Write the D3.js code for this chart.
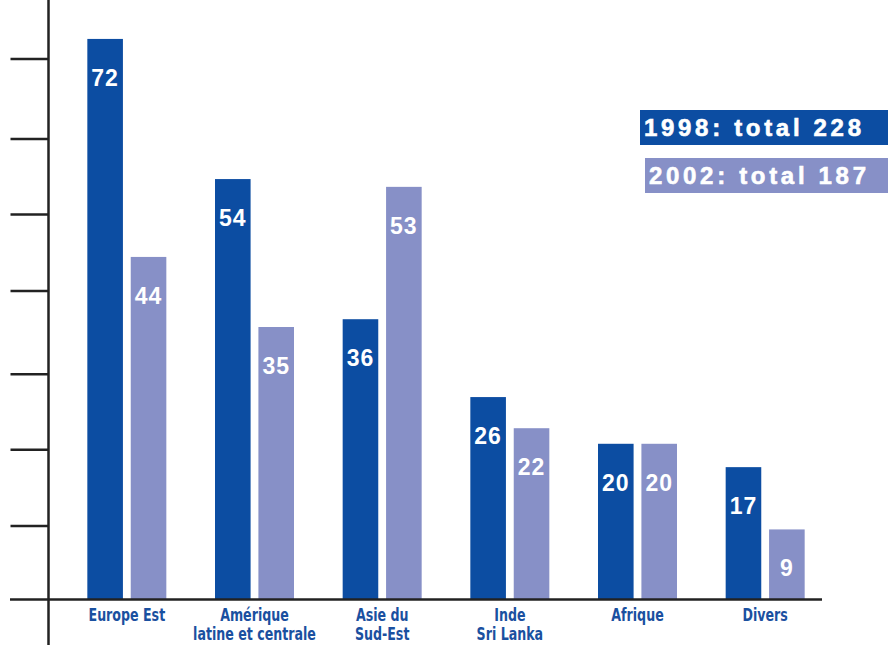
<!DOCTYPE html>
<html>
<head>
<meta charset="utf-8">
<script src="https://cdn.jsdelivr.net/npm/d3@7"></script>
<style>
  body { margin: 0; background: #fff; }
  #chart { width: 888px; height: 645px; }
</style>
</head>
<body>
<div id="chart"></div>
<script>
// données
const categories = [
    ["Europe Est"],
    ["Amérique", "latine et centrale"],
    ["Asie du", "Sud-Est"],
    ["Inde", "Sri Lanka"],
    ["Afrique"],
    ["Divers"]
];
const years = ["1998", "2002"];
const values1998 = [72, 54, 36, 26, 20, 17];
const values2002 = [44, 35, 53, 22, 20, 9];
const legendLabels = ["1998: total 228", "2002: total 187"];
// graduations sans étiquettes
const yTicks = [9.5, 19.3, 29, 39.7, 49.5, 59.2, 69.5];

const width = 888, height = 645;
const baseY = 599.5;
const darkBlue = '#0c4da2';
const lightBlue = '#8790c7';

const svg = d3.select('#chart').append('svg')
    .attr('width', width)
    .attr('height', height);

// échelles
const x = d3.scaleBand()
    .domain(d3.range(categories.length))
    .range([63, 829])
    .padding(0);

const xSub = d3.scaleBand()
    .domain(years)
    .range([0, 79])
    .paddingInner(0.18);

const y = d3.scaleLinear()
    .domain([0, 77])
    .range([baseY, 0]);

const color = d3.scaleOrdinal().domain(years).range([darkBlue, lightBlue]);

const rows = categories.map((c, i) => ({
    label: c,
    vals: [
        { year: '1998', value: values1998[i] },
        { year: '2002', value: values2002[i] }
    ]
}));

// axe vertical avec graduations
svg.append('g')
    .attr('transform', 'translate(48.5,0)')
    .call(d3.axisLeft(y).tickValues(yTicks).tickSize(38).tickFormat(''))
    .call(g => g.select('.domain').remove())
    .call(g => g.selectAll('.tick line').attr('stroke', '#222').attr('stroke-width', 2.5));

svg.append('line')
    .attr('x1', 48.5).attr('x2', 48.5)
    .attr('y1', 0).attr('y2', 645)
    .attr('stroke', '#222').attr('stroke-width', 2.5);

// barres
const groups = svg.append('g').selectAll('g')
    .data(rows)
    .join('g')
    .attr('transform', (d, i) => `translate(${x(i) + x.bandwidth() / 2 - 39.5},0)`);

groups.selectAll('rect')
    .data(d => d.vals)
    .join('rect')
    .attr('x', d => xSub(d.year))
    .attr('y', d => y(d.value))
    .attr('width', xSub.bandwidth())
    .attr('height', d => baseY - y(d.value))
    .attr('fill', d => color(d.year));

groups.selectAll('text.val')
    .data(d => d.vals)
    .join('text')
    .attr('class', 'val')
    .attr('x', d => xSub(d.year) + xSub.bandwidth() / 2)
    .attr('y', d => Math.min(y(d.value) + 47, baseY - 14))
    .attr('text-anchor', 'middle')
    .attr('fill', '#fff')
    .style('font-family', '"Liberation Sans", Arial, sans-serif')
    .style('font-weight', 'bold')
    .style('font-size', '23px')
    .style('letter-spacing', '1px')
    .text(d => d.value);

// ligne de base
svg.append('line')
    .attr('x1', 10).attr('x2', 822)
    .attr('y1', baseY).attr('y2', baseY)
    .attr('stroke', '#222').attr('stroke-width', 2.5);

// étiquettes des catégories (police étroite)
const catLabels = svg.append('g').selectAll('text')
    .data(rows)
    .join('text')
    .attr('transform', (d, i) => `translate(${x(i) + x.bandwidth() / 2},621) scale(0.78,1)`)
    .attr('text-anchor', 'middle')
    .attr('fill', '#1a50a0')
    .style('font-family', '"DejaVu Sans Condensed", "Liberation Sans Narrow", sans-serif')
    .style('font-weight', 'bold')
    .style('font-size', '18px');

catLabels.selectAll('tspan')
    .data(d => d.label)
    .join('tspan')
    .attr('x', 0)
    .attr('dy', (d, i) => i === 0 ? 0 : 19)
    .text(d => d);

// légende
const legend = [
    { label: legendLabels[0], year: '1998', x: 640, y: 110 },
    { label: legendLabels[1], year: '2002', x: 645, y: 158 }
];

legend.forEach(l => {
    svg.append('rect')
        .attr('x', l.x).attr('y', l.y)
        .attr('width', width - l.x).attr('height', 35)
        .attr('fill', color(l.year));
    svg.append('text')
        .attr('x', l.x + 4)
        .attr('y', l.y + 26)
        .attr('fill', '#fff')
        .attr('textLength', 217)
        .attr('lengthAdjust', 'spacing')
        .style('font-family', '"Liberation Sans", Arial, sans-serif')
        .style('font-weight', 'bold')
        .style('font-size', '24px')
        .style('stroke', '#fff')
        .style('stroke-width', '0.6px')
        .text(l.label);
});
</script>
</body>
</html>
